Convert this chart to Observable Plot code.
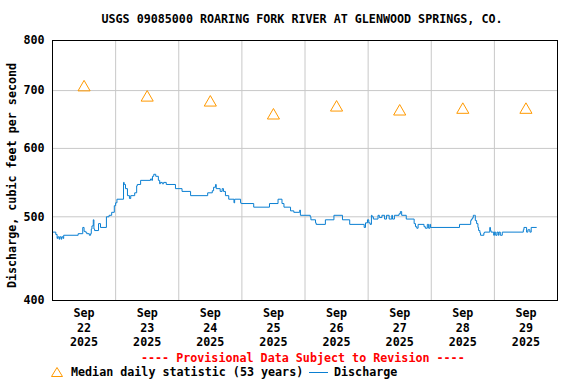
<!DOCTYPE html>
<html>
<head>
<meta charset="utf-8">
<script src="https://cdn.jsdelivr.net/npm/d3@7"></script>
<script src="https://cdn.jsdelivr.net/npm/@observablehq/plot@0.6"></script>
<style>
  html, body { margin: 0; padding: 0; background: #fff; }
  body { width: 576px; height: 384px; overflow: hidden; font-family: "DejaVu Sans Mono", monospace; font-weight: bold; font-size: 11.7px; color: #000; }
  #title { height: 30px; box-sizing: border-box; padding-top: 12px; line-height: 14px; text-align: center; padding-left: 28px; white-space: pre; }
  #chart svg { display: block; }
  #footer { position: relative; height: 33px; }
  #footer .prov { position: absolute; top: 0; left: 141px; line-height: 14px; color: #ff0000; white-space: pre; }
  #footer .leg { position: absolute; top: 14px; line-height: 14px; white-space: pre; }
</style>
</head>
<body>
<div id="title">USGS 09085000 ROARING FORK RIVER AT GLENWOOD SPRINGS, CO.</div>
<div id="chart"></div>
<div id="footer">
  <span class="prov">---- Provisional Data Subject to Revision ----</span>
  <svg class="leg" style="left:50px;top:15px" width="14" height="12"><polygon points="7,1.5 12.5,10.5 1.5,10.5" fill="none" stroke="#ff9900" stroke-width="1"/></svg>
  <span class="leg" style="left:71px">Median daily statistic (53 years)</span>
  <span class="leg" style="left:309px;top:21px;width:19px;height:0;border-top:1px solid #0a7fd2"></span>
  <span class="leg" style="left:334px">Discharge</span>
</div>
<script>
// Discharge, ft3/s (timestamps as shown on the chart)
const flowTimes = [
  "2025-09-22 00:00","2025-09-22 01:15","2025-09-22 01:45","2025-09-22 02:00","2025-09-22 02:30","2025-09-22 02:45",
  "2025-09-22 03:15","2025-09-22 03:30","2025-09-22 04:00","2025-09-22 04:15","2025-09-22 09:45","2025-09-22 11:30",
  "2025-09-22 12:00","2025-09-22 12:30","2025-09-22 13:00","2025-09-22 14:00","2025-09-22 14:30","2025-09-22 14:45",
  "2025-09-22 15:00","2025-09-22 15:30","2025-09-22 15:45","2025-09-22 16:00","2025-09-22 17:30","2025-09-22 18:15",
  "2025-09-22 20:30","2025-09-22 21:30","2025-09-22 22:30","2025-09-22 23:30",
  "2025-09-23 00:00","2025-09-23 00:30","2025-09-23 03:00","2025-09-23 03:15","2025-09-23 03:45","2025-09-23 04:30",
  "2025-09-23 05:15","2025-09-23 05:45","2025-09-23 07:15","2025-09-23 08:00","2025-09-23 08:15","2025-09-23 09:30",
  "2025-09-23 13:15","2025-09-23 13:45","2025-09-23 14:00","2025-09-23 14:30","2025-09-23 15:15","2025-09-23 16:15",
  "2025-09-23 16:45","2025-09-23 17:00","2025-09-23 17:45","2025-09-23 18:15","2025-09-23 19:15","2025-09-23 22:45",
  "2025-09-24 01:15","2025-09-24 04:30","2025-09-24 11:00","2025-09-24 12:45","2025-09-24 13:15","2025-09-24 14:00",
  "2025-09-24 14:15","2025-09-24 15:45","2025-09-24 16:30","2025-09-24 17:00","2025-09-24 17:45","2025-09-24 19:00",
  "2025-09-24 21:00","2025-09-24 21:15","2025-09-24 23:30","2025-09-24 23:45",
  "2025-09-25 04:30","2025-09-25 10:30","2025-09-25 13:45","2025-09-25 15:15","2025-09-25 16:00","2025-09-25 18:30",
  "2025-09-25 19:45","2025-09-25 22:00","2025-09-25 22:15",
  "2025-09-26 02:00","2025-09-26 02:15","2025-09-26 04:00","2025-09-26 04:15","2025-09-26 07:45","2025-09-26 11:00",
  "2025-09-26 14:15","2025-09-26 17:00","2025-09-26 22:30","2025-09-26 23:00","2025-09-26 23:45",
  "2025-09-27 00:15","2025-09-27 00:45","2025-09-27 01:15","2025-09-27 01:30","2025-09-27 02:00","2025-09-27 03:45",
  "2025-09-27 04:15","2025-09-27 05:15","2025-09-27 06:15","2025-09-27 07:00","2025-09-27 08:00","2025-09-27 09:00",
  "2025-09-27 09:15","2025-09-27 10:00","2025-09-27 11:45","2025-09-27 12:15","2025-09-27 12:45","2025-09-27 14:30",
  "2025-09-27 17:30","2025-09-27 18:00","2025-09-27 18:30","2025-09-27 19:00","2025-09-27 21:15","2025-09-27 21:45",
  "2025-09-27 22:30","2025-09-27 23:00","2025-09-27 23:30","2025-09-27 23:45",
  "2025-09-28 10:45","2025-09-28 15:00","2025-09-28 15:15","2025-09-28 15:45","2025-09-28 16:00","2025-09-28 16:30",
  "2025-09-28 16:45","2025-09-28 17:15","2025-09-28 17:45","2025-09-28 18:00","2025-09-28 18:30","2025-09-28 18:45",
  "2025-09-28 20:00","2025-09-28 20:15","2025-09-28 22:15","2025-09-28 22:30","2025-09-28 22:45","2025-09-28 23:45",
  "2025-09-29 00:00","2025-09-29 00:30","2025-09-29 01:00","2025-09-29 01:30","2025-09-29 01:45","2025-09-29 02:15",
  "2025-09-29 03:00","2025-09-29 11:00","2025-09-29 11:15","2025-09-29 12:15","2025-09-29 12:45","2025-09-29 13:30",
  "2025-09-29 14:00","2025-09-29 16:00"
];
const flowValues = [
  480,477,472,474,471,474,
  471,474,472,476,478,486,
  481,480,478,476,478,484,
  488,496,484,482,491,486,
  500,502,506,515,
  519,524,548,545,539,529,
  525,529,533,543,545,551,
  553,551,557,560,557,551,
  546,548,546,548,545,539,
  535,529,533,536,541,545,
  539,535,539,535,529,524,
  519,524,519,518,
  513,518,524,518,513,508,
  506,509,502,
  500,496,492,490,496,502,
  496,490,486,492,496,
  492,490,502,500,497,502,
  499,502,497,502,497,502,
  497,502,504,507,502,497,
  491,487,485,490,487,485,
  490,485,490,486,
  490,495,497,499,502,502,
  495,491,486,482,479,476,
  479,480,486,482,480,476,
  480,476,480,476,480,476,
  480,483,486,480,483,480,
  486,486
];

// Median daily statistic (53 years), plotted at noon of each day
const medianDays = ["2025-09-22","2025-09-23","2025-09-24","2025-09-25","2025-09-26","2025-09-27","2025-09-28","2025-09-29"];
const medianValues = [706, 687, 678, 655, 669, 662, 665, 665];

const yTicks = [400, 500, 600, 700, 800];
const yGrid = [500, 600, 700];
const xDomain = ["2025-09-22 00:00", "2025-09-30 00:00"];
const tickMonth = "Sep";
const tickYear = "2025";
const yLabel = "Discharge, cubic feet per second";

const parse = d3.utcParse("%Y-%m-%d %H:%M");
const flow = flowTimes.map((t, i) => ({date: parse(t), value: flowValues[i]}));
const median = medianDays.map((d, i) => ({date: parse(d + " 12:00"), value: medianValues[i]}));
const gridDates = medianDays.slice(1).map(d => parse(d + " 00:00"));
const tickDates = median.map(d => d.date);

const chart = Plot.plot({
  width: 576,
  height: 321,
  marginTop: 10,
  marginLeft: 52,
  marginRight: 19,
  marginBottom: 51,
  style: {fontFamily: "'DejaVu Sans Mono', monospace", fontSize: "11.7px", fontWeight: "bold", background: "#fff", color: "#000", overflow: "visible"},
  x: {type: "utc", domain: xDomain.map(parse)},
  y: {type: "log", domain: [400, 800]},
  marks: [
    Plot.gridX(gridDates, {stroke: "#c8c8c8", strokeOpacity: 1}),
    Plot.gridY(yGrid, {stroke: "#c8c8c8", strokeOpacity: 1}),
    Plot.axisY(yTicks, {tickSize: 0, tickPadding: 8, tickFormat: d => String(d), label: null}),
    Plot.axisX(tickDates, {tickSize: 0, tickPadding: 7, lineHeight: 1.2, label: null,
      tickFormat: d => `${tickMonth}\n${d3.utcFormat("%d")(d)}\n${tickYear}`}),
    Plot.lineY(flow, {x: "date", y: "value", curve: "step-after", stroke: "#0a7fd2", strokeWidth: 1}),
    Plot.dot(median, {x: "date", y: "value", symbol: "triangle", stroke: "#ff9900", strokeWidth: 1, r: 4.5}),
    Plot.frame({stroke: "#000"}),
    Plot.text([yLabel], {text: d => d, frameAnchor: "left", textAnchor: "middle", dx: -40, dy: 5, rotate: -90})
  ]
});
document.getElementById("chart").appendChild(chart);
</script>
</body>
</html>
